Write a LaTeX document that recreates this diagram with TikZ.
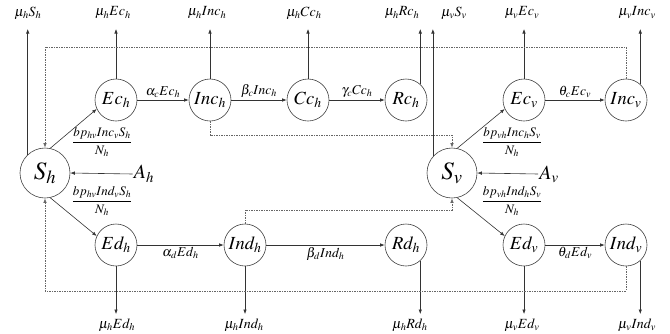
\documentclass[tikz,border=0pt]{standalone}
\usepackage{mathptmx}
\usetikzlibrary{arrows.meta}
\begin{document}
\begin{tikzpicture}[x=1pt,y=-1pt,
  st/.style={circle,draw=black!75,line width=0.6pt,minimum size=42pt,inner sep=0pt,font=\fontsize{18.5}{18.5}\selectfont},
  bigst/.style={st,minimum size=50pt,font=\fontsize{25}{25}\selectfont},
  ar/.style={draw=black!80,line width=0.6pt,-{Latex[length=4.5pt,width=3.5pt]}},
  dl/.style={draw=black!60,line width=0.7pt,dash pattern=on 1.5pt off 1pt,-{Latex[length=4.5pt,width=3.5pt]}},
  lab/.style={font=\fontsize{14}{14}\selectfont,inner sep=1pt},
  elab/.style={font=\fontsize{13.5}{13.5}\selectfont,inner sep=2pt},
  frac/.style={font=\fontsize{13}{13}\selectfont,inner sep=0pt},
  src/.style={font=\fontsize{20}{20}\selectfont,inner sep=1pt},
]
\useasboundingbox (0,0) rectangle (670,333);
% nodes
\node[bigst] (Sh) at (45,173) {$S_h$};
\node[st] (Ech) at (116,100) {$Ec_h$};
\node[st] (Inch) at (210,100) {$Inc_h$};
\node[st] (Cch) at (308,100) {$Cc_h$};
\node[st] (Rch) at (406,100) {$Rc_h$};
\node[bigst] (Sv) at (452,173) {$S_v$};
\node[st] (Ecv) at (524,100) {$Ec_v$};
\node[st] (Incv) at (626,100) {$Inc_v$};
\node[st] (Edh) at (116,245) {$Ed_h$};
\node[st] (Indh) at (245,245) {$Ind_h$};
\node[st] (Rdh) at (406,245) {$Rd_h$};
\node[st] (Edv) at (524,245) {$Ed_v$};
\node[st] (Indv) at (626,245) {$Ind_v$};
% sources
\node[src] (Ah) at (144,174) {$A_h$};
\node[src] (Av) at (549,174) {$A_v$};
% fractions
\node[frac] (f1) at (102,142) {$\displaystyle\frac{bp_{hv}Inc_vS_h}{N_h}$};
\node[frac] (f2) at (102,201) {$\displaystyle\frac{bp_{hv}Ind_vS_h}{N_h}$};
\node[frac] (f3) at (512,142) {$\displaystyle\frac{bp_{vh}Inc_hS_v}{N_h}$};
\node[frac] (f4) at (512,201) {$\displaystyle\frac{bp_{vh}Ind_hS_v}{N_h}$};
% top labels
\node[lab] (tSh) at (28,13) {$\mu_hS_h$};
\node[lab] (tEch) at (113,13) {$\mu_hEc_h$};
\node[lab] (tInch) at (207,13) {$\mu_hInc_h$};
\node[lab] (tCch) at (304,13) {$\mu_hCc_h$};
\node[lab] (tRch) at (402,13) {$\mu_hRc_h$};
\node[lab] (tSv) at (454,13) {$\mu_vS_v$};
\node[lab] (tEcv) at (522,13) {$\mu_vEc_v$};
\node[lab] (tIncv) at (637,13) {$\mu_vInc_v$};
% bottom labels
\node[lab] (bEdh) at (117,325) {$\mu_hEd_h$};
\node[lab] (bIndh) at (244,325) {$\mu_hInd_h$};
\node[lab] (bRdh) at (410,325) {$\mu_hRd_h$};
\node[lab] (bEdv) at (522,325) {$\mu_vEd_v$};
\node[lab] (bIndv) at (637,325) {$\mu_vInd_v$};
% helper coordinates
\coordinate (top) at (0,29);
\coordinate (bot) at (0,314);
\coordinate (TL) at (45,47);
\coordinate (BL) at (45,291);
\coordinate (M1) at (452,135);
\coordinate (M2) at (452,210);
% transitions
\draw[ar] (Ech) -- node[elab,above] {$\alpha_cEc_h$} (Inch);
\draw[ar] (Inch) -- node[elab,above] {$\beta_cInc_h$} (Cch);
\draw[ar] (Cch) -- node[elab,above] {$\gamma_cCc_h$} (Rch);
\draw[ar] (Ecv) -- node[elab,above] {$\theta_cEc_v$} (Incv);
\draw[ar] (Edh) -- node[elab,below] {$\alpha_dEd_h$} (Indh);
\draw[ar] (Indh) -- node[elab,below] {$\beta_dInd_h$} (Rdh);
\draw[ar] (Edv) -- node[elab,below] {$\theta_dEd_v$} (Indv);
\draw[ar] (Sh.78) -- (Ech.205);
\draw[ar] (Sh.-78) -- (Edh.155);
\draw[ar] (Sv.78) -- (Ecv.205);
\draw[ar] (Sv.-78) -- (Edv.155);
\draw[ar] (Ah.west) -- (Sh.east);
\draw[ar] (Av.west) -- (Sv.east);
% deaths
\draw[ar] (Sh.133) -- (Sh.133 |- top);
\draw[ar] (Ech.north) -- (Ech.north |- top);
\draw[ar] (Inch.north) -- (Inch.north |- top);
\draw[ar] (Cch.north) -- (Cch.north |- top);
\draw[ar] (Rch.48) -- (Rch.48 |- top);
\draw[ar] (Sv.139) -- (Sv.139 |- top);
\draw[ar] (Ecv.north) -- (Ecv.north |- top);
\draw[ar] (Incv.48) -- (Incv.48 |- top);
\draw[ar] (Edh.south) -- (Edh.south |- bot);
\draw[ar] (Indh.south) -- (Indh.south |- bot);
\draw[ar] (Rdh.-48) -- (Rdh.-48 |- bot);
\draw[ar] (Edv.south) -- (Edv.south |- bot);
\draw[ar] (Indv.-48) -- (Indv.-48 |- bot);
% cross infections
\draw[dl] (Incv.north) |- (TL) -- (Sh.north);
\draw[dl] (Indv.south) |- (BL) -- (Sh.south);
\draw[dl] (Inch.south) |- (M1) -- (Sv.north);
\draw[dl] (Indh.north) |- (M2) -- (Sv.south);
\end{tikzpicture}
\end{document}
